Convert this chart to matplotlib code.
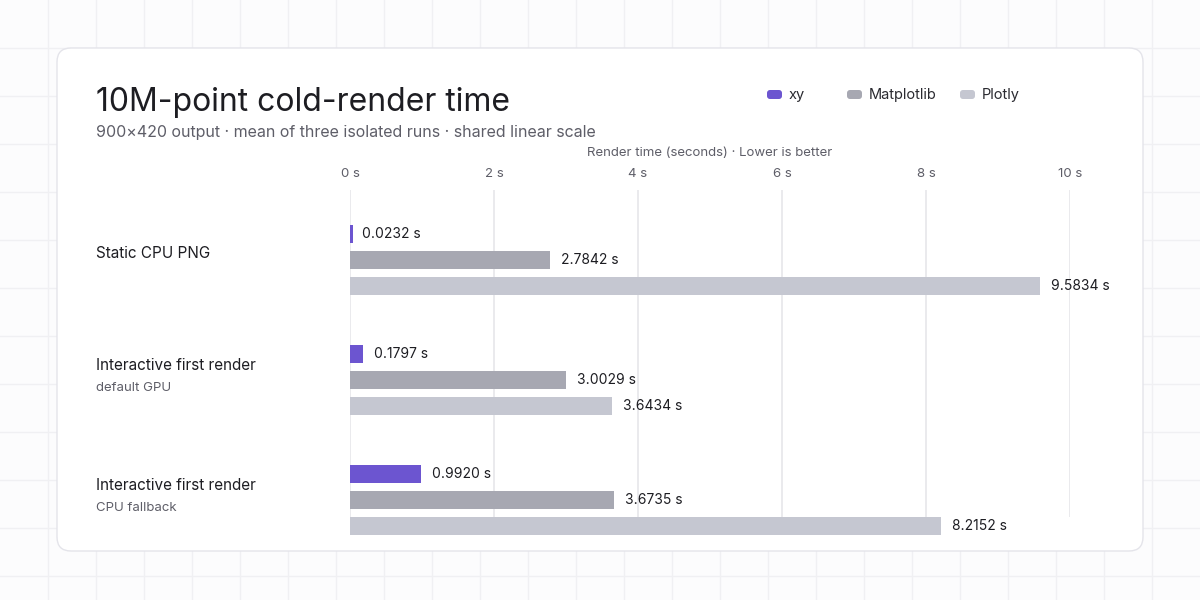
import matplotlib.pyplot as plt
from matplotlib.patches import FancyBboxPatch

plt.rcParams['font.family'] = ['Inter', 'DejaVu Sans']

groups = ['Static CPU PNG', 'Interactive first render', 'Interactive first render']
subtitles = ['', 'default GPU', 'CPU fallback']
series = ['xy', 'Matplotlib', 'Plotly']
colors = ['#6c55d0', '#a7a8b2', '#c5c7d1']
values = [
    [0.0232, 0.1797, 0.9920],   # xy
    [2.7842, 3.0029, 3.6735],   # Matplotlib
    [9.5834, 3.6434, 8.2152],   # Plotly
]
ticks = [0, 2, 4, 6, 8, 10]

W, H = 1200, 600
fig = plt.figure(figsize=(12, 6), dpi=100)
fig.patch.set_facecolor('#fcfcfd')

# background in pixel coordinates
bg = fig.add_axes([0, 0, 1, 1])
bg.set_xlim(0, W)
bg.set_ylim(H, 0)
bg.axis('off')
for p in range(48, W, 48):
    bg.axvline(p, color='#f0f0f3', lw=1, zorder=0)
for p in range(48, H, 48):
    bg.axhline(p, color='#f0f0f3', lw=1, zorder=0)
card = FancyBboxPatch((57, 48), 1086, 503, boxstyle='round,pad=0,rounding_size=14',
                      fc='white', ec='#e4e4ea', lw=1, zorder=1)
bg.add_patch(card)

bg.text(96, 102, '10M-point cold-render time', fontsize=23, color='#1d1d22',
        va='center', zorder=3)
bg.text(96, 132, '900×420 output · mean of three isolated runs · shared linear scale',
        fontsize=11.5, color='#5e5e68', va='center', zorder=3)
bg.text(710, 153, 'Render time (seconds) · Lower is better', fontsize=9.5,
        color='#5e5e68', ha='center', va='center', zorder=3)

# legend
lx = [767, 847, 960]
for x, name, c in zip(lx, series, colors):
    bg.add_patch(FancyBboxPatch((x, 90), 15, 9, boxstyle='round,pad=0,rounding_size=3',
                                fc=c, ec='none', zorder=3))
    bg.text(x + 22, 94.5, name, fontsize=10.5, color='#2a2a30', va='center', zorder=3)

# group labels
for g, (lab, sub) in enumerate(zip(groups, subtitles)):
    yc = 253 + 120 * g
    if sub:
        bg.text(96, yc - 7, lab, fontsize=11, color='#1d1d22', va='center', zorder=3)
        bg.text(96, yc + 15, sub, fontsize=9.5, color='#5e5e68', va='center', zorder=3)
    else:
        bg.text(96, yc, lab, fontsize=11, color='#1d1d22', va='center', zorder=3)

# data axes: x 350..1070 px, y 180..545 px
ax = fig.add_axes([350 / W, 1 - 545 / H, 720 / W, 365 / H])
ax.set_xlim(0, 10)
ax.set_ylim(545, 180)
ax.patch.set_alpha(0)
for s in ax.spines.values():
    s.set_visible(False)
ax.set_yticks([])
ax.xaxis.tick_top()
ax.set_xticks(ticks)
ax.set_xticklabels([f'{t} s' for t in ticks], fontsize=9.5, color='#5e5e68')
ax.tick_params(axis='x', length=0, pad=0)
ax.vlines(ticks, 190, 517, color='#e6e6ea', lw=1.2, zorder=0)

for s, (name, c) in enumerate(zip(series, colors)):
    for g in range(len(groups)):
        y = 234 + 120 * g + 26 * s
        v = values[s][g]
        ax.barh(y, max(v, 0.04), height=18, color=c, zorder=2)
        ax.text(v + 0.15, y, f'{v:.4f} s', fontsize=10, color='#1d1d22',
                va='center', zorder=3)

fig.savefig('out.png', dpi=100, facecolor=fig.get_facecolor())
